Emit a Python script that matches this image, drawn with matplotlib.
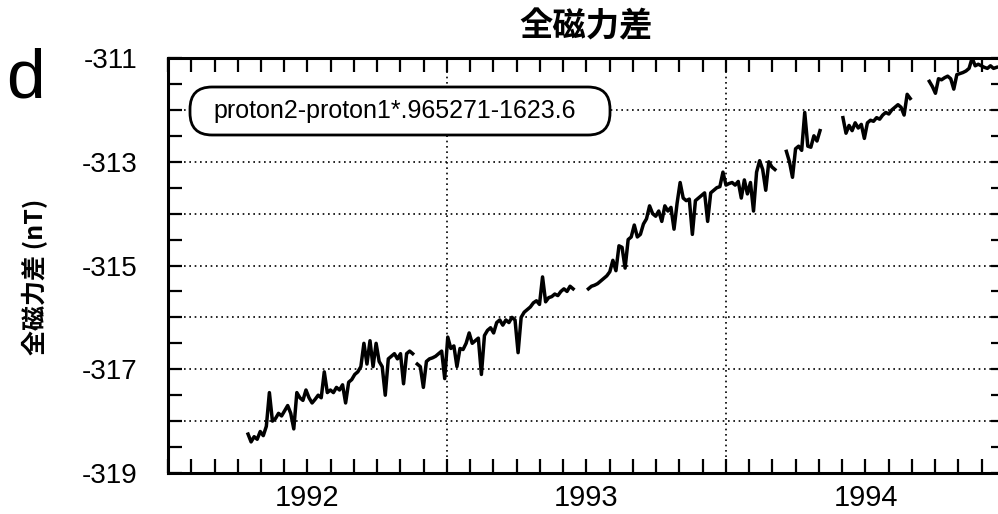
import numpy as np
import pandas as pd
import matplotlib
matplotlib.use("Agg")
import matplotlib.pyplot as plt
from matplotlib.patches import FancyBboxPatch

# ---------------- data ----------------
seg_starts = ['1992-04-15', '1992-11-23', '1993-07-05', '1994-03-21', '1994-06-03', '1994-09-24']
step_days = 4

seg1 = [-318.25, -318.40, -318.30, -318.35, -318.20, -318.28, -318.10, -317.45, -318.00, -317.95,
        -317.85, -317.90, -317.80, -317.70, -317.85, -318.15, -317.45, -317.55, -317.60, -317.40,
        -317.55, -317.65, -317.58, -317.50, -317.55, -317.05, -317.45, -317.40, -317.45, -317.35,
        -317.40, -317.30, -317.65, -317.25, -317.20, -317.10, -317.05, -316.95, -316.50, -316.90,
        -316.45, -316.95, -316.50, -316.85, -316.95, -317.50, -316.80, -316.75, -316.70, -316.80,
        -316.70, -317.28, -316.70, -316.65, -316.70]
seg2 = [-316.90, -316.95, -317.35, -316.85, -316.80, -316.78, -316.75, -316.70, -316.65, -317.18,
        -316.38, -316.60, -316.55, -316.95, -316.60, -316.62, -316.50, -316.30, -316.50, -316.45,
        -316.40, -317.10, -316.35, -316.25, -316.20, -316.30, -316.10, -316.05, -316.15, -316.05,
        -316.10, -316.00, -316.05, -316.68, -316.00, -315.90, -315.85, -315.80, -315.72, -315.68,
        -315.75, -315.22, -315.70, -315.62, -315.60, -315.55, -315.58, -315.50, -315.45, -315.50,
        -315.40, -315.45]
seg3 = [-315.45, -315.40, -315.38, -315.35, -315.30, -315.25, -315.20, -315.12, -314.90, -315.10,
        -314.62, -314.65, -315.05, -314.50, -314.45, -314.22, -314.45, -314.40, -314.20, -314.10,
        -313.85, -314.00, -314.05, -313.95, -314.15, -313.85, -313.95, -313.88, -314.30, -313.80,
        -313.40, -313.70, -313.75, -313.72, -314.40, -313.75, -313.70, -313.65, -313.60, -314.15,
        -313.60, -313.55, -313.50, -313.48, -313.20, -313.45, -313.42, -313.40, -313.45, -313.38,
        -313.70, -313.35, -313.62, -313.40, -313.95, -313.20, -312.98, -313.15, -313.55, -313.00,
        -313.10, -313.15]
seg4 = [-312.80, -313.00, -313.30, -312.75, -312.70, -312.78, -312.05, -312.70, -312.72, -312.50,
        -312.60, -312.40]
seg5 = [-312.15, -312.45, -312.30, -312.40, -312.25, -312.35, -312.28, -312.55, -312.25, -312.20,
        -312.22, -312.15, -312.18, -312.10, -312.05, -312.08, -312.00, -311.95, -311.90, -311.95,
        -312.10, -311.70, -311.78]
seg6 = [-311.45, -311.55, -311.68, -311.40, -311.42, -311.38, -311.35, -311.40, -311.60, -311.32,
        -311.30, -311.28, -311.25, -311.20, -311.00, -311.15, -311.12, -311.15, -311.18, -311.20,
        -311.15, -311.20, -311.18]
segments = [seg1, seg2, seg3, seg4, seg5, seg6]

year_labels = ['1992', '1993', '1994']
y_label_values = [-311, -313, -315, -317, -319]
legend_text = 'proton2-proton1*.965271-1623.6'
title_text = '全磁力差'
ylabel_text = '全磁力差 (nT)'


def decimal_year(ts):
    ts = pd.DatetimeIndex(ts)
    start = pd.to_datetime(ts.year.astype(str) + '-01-01')
    end = pd.to_datetime((ts.year + 1).astype(str) + '-01-01')
    return ts.year + (ts - start) / (end - start)


xs, ys = [], []
for start, vals in zip(seg_starts, segments):
    dates = pd.date_range(start, periods=len(vals), freq=f'{step_days}D')
    xs.extend(list(decimal_year(dates)))
    ys.extend(vals)
    xs.append(np.nan)
    ys.append(np.nan)

# ---------------- figure ----------------
plt.rcParams['font.family'] = ['Liberation Sans', 'DejaVu Sans']
W, H = 998, 514
fig = plt.figure(figsize=(W / 100, H / 100), dpi=100)
ax = fig.add_axes([168 / W, 41 / H, 837 / W, 415 / H])

ax.plot(xs, ys, color='black', lw=2.5, solid_joinstyle='round', zorder=3)

ax.set_xlim(1992, 1995)
ax.set_ylim(-319, -311)

# ticks
ax.xaxis.remove_overlapping_locs = False
ax.set_xticks(np.arange(1992, 1995.001, 1 / 12))
ax.set_xticklabels([])
ax.set_xticks([int(y) + 0.5 for y in year_labels], minor=True)
ax.set_xticklabels(year_labels, minor=True, fontsize=21)
ax.tick_params(axis='x', which='major', direction='in', length=10, width=1.6,
               top=True, bottom=True)
ax.tick_params(axis='x', which='minor', length=0, pad=8)

ax.set_yticks(np.arange(-319, -310.9, 1))
ax.set_yticklabels([str(v) if v in y_label_values else '' for v in range(-319, -310)],
                   fontsize=20, va='center_baseline')
ax.set_yticks(np.arange(-318.5, -311, 1), minor=True)
ax.tick_params(axis='y', which='both', direction='in', length=10, width=1.6,
               left=True, right=True, pad=22)

# grid
for yv in range(-318, -311):
    ax.axhline(yv, color='black', lw=1.2, ls=(0, (1, 2.2)), zorder=0)
for xv in (1993, 1994):
    ax.axvline(xv, color='black', lw=1.2, ls=(0, (1, 2.2)), zorder=0)

for s in ax.spines.values():
    s.set_linewidth(2.2)

# legend box (rounded, in figure inches)
bx0, bx1, by_top, by_bot = 190, 610, 87, 135
box = FancyBboxPatch((bx0 / 100, (H - by_bot) / 100), (bx1 - bx0) / 100, (by_bot - by_top) / 100,
                     boxstyle='round,pad=0,rounding_size=0.22', fc='white', ec='black', lw=2.0,
                     transform=fig.dpi_scale_trans, zorder=5)
fig.add_artist(box)
fig.text(213 / W, 1 - 111 / H, legend_text, fontsize=18, va='center', ha='left', zorder=6)

# title & labels
fig.text(586 / W, 1 - 27 / H, title_text, ha='center', va='center', fontsize=24,
         fontweight='bold', family=['Noto Sans CJK JP', 'DejaVu Sans'])
fig.text(35 / W, 1 - 277 / H, ylabel_text, ha='center', va='center', rotation=90,
         fontsize=18, fontweight='bold', family=['Noto Sans CJK JP', 'DejaVu Sans'])
fig.text(6 / W, 1 - 98 / H, 'd', ha='left', va='baseline', fontsize=50)

fig.savefig('out.png', dpi=100)
